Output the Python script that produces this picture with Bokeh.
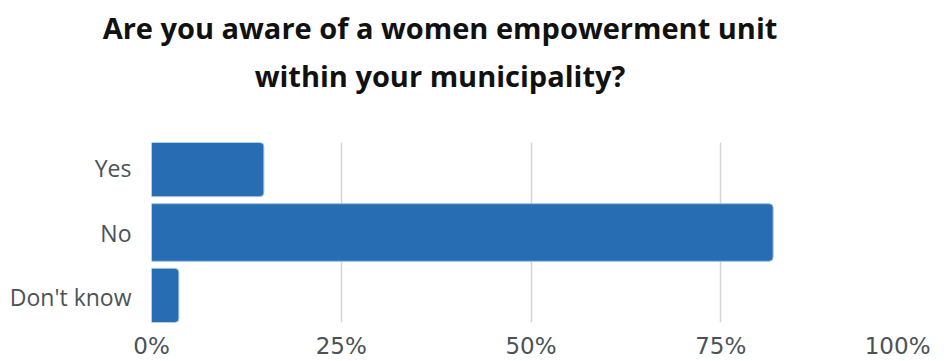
from bokeh.plotting import figure
from bokeh.layouts import column
from bokeh.models import FactorRange, Range1d, Div, PrintfTickFormatter, FixedTicker
from bokeh.embed import file_html
from bokeh.resources import INLINE

categories = ["Yes", "No", "Don't know"]
values = [14.8, 81.9, 3.6]
ticks = [0, 25, 50, 75, 100]
title_lines = ["Are you aware of a women empowerment unit", "within your municipality?"]

title = Div(text="<br>".join(title_lines), width=930, height=100, margin=0,
            styles={"font-family": "Open Sans", "font-weight": "bold", "font-size": "29px",
                    "line-height": "48px", "color": "#111111", "text-align": "center",
                    "padding-top": "4px", "padding-right": "50px", "box-sizing": "border-box",
                    "width": "930px"})

p = figure(width=930, height=261, output_backend="svg", toolbar_location=None,
           y_range=FactorRange(factors=categories[::-1], range_padding=-0.108,
                               range_padding_units="absolute"),
           x_range=Range1d(0, 100), margin=0,
           min_border_left=151, min_border_right=20, min_border_bottom=39, min_border_top=42)

p.hbar(y=categories, right=values, left=0, height=0.89, fill_color="#266db3",
       line_color="#9fbfe0", line_width=1, border_radius=(0, 4, 4, 0))

p.outline_line_color = None
p.ygrid.grid_line_color = None
p.xgrid.grid_line_color = "#d4d4d4"
p.xgrid.grid_line_width = 1.5
p.xaxis.ticker = FixedTicker(ticks=ticks)
p.xaxis.formatter = PrintfTickFormatter(format="%d%%")
for ax in (p.xaxis, p.yaxis):
    ax.axis_line_color = None
    ax.major_tick_line_color = None
    ax.minor_tick_line_color = None
    ax.major_label_text_color = "#4a5356"
p.xaxis.major_label_text_font = "DejaVu Sans"
p.xaxis.major_label_text_font_size = "23px"
p.yaxis.major_label_text_font = "Open Sans"
p.yaxis.major_label_text_font_size = "23px"
p.xaxis.major_label_standoff = 4
p.yaxis.major_label_standoff = 14

layout = column(title, p, spacing=0)
open("out.html", "w").write(file_html(layout, INLINE))
